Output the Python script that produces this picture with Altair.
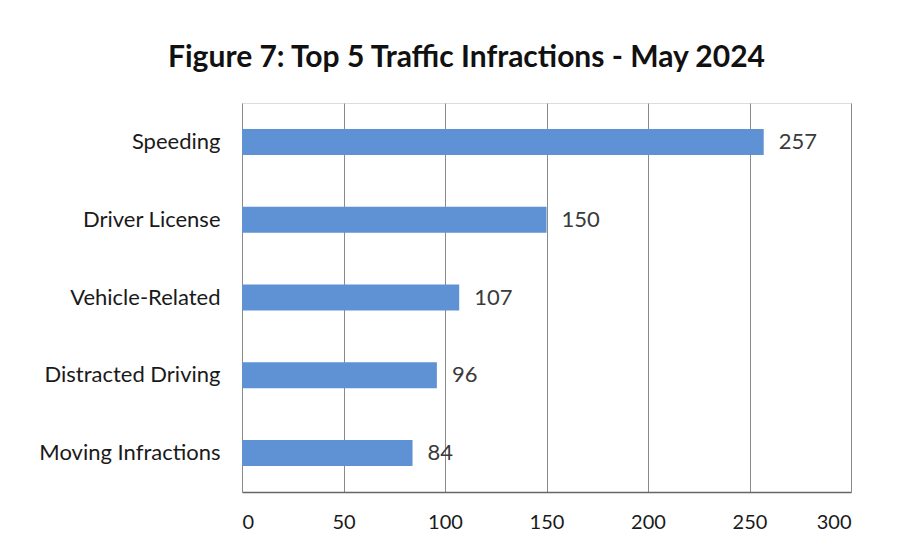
import altair as alt
import pandas as pd

categories = ["Speeding", "Driver License", "Vehicle-Related", "Distracted Driving", "Moving Infractions"]
values = [257, 150, 107, 96, 84]
x_ticks = [0, 50, 100, 150, 200, 250, 300]

df = pd.DataFrame({"category": categories, "count": values})

FONT = "Lato"

x = alt.X("count:Q", scale=alt.Scale(domain=[0, 300], nice=False),
          axis=alt.Axis(values=x_ticks, title=None, grid=True, gridColor="#8a8a8a",
                        gridWidth=1, domain=True, domainColor="#666666", domainWidth=1.5,
                        ticks=False, labelPadding=20, labelFontSize=20, labelColor="#1a1a1a",
                        labelFont=FONT))
y = alt.Y("category:N", sort=categories, scale=alt.Scale(paddingInner=0.0, paddingOuter=0.0),
          axis=alt.Axis(title=None, domain=False, ticks=False, labelPadding=22,
                        labelFontSize=22, labelColor="#1a1a1a", labelFont=FONT, grid=False,
                        labelLimit=300))

bars = alt.Chart(df).mark_bar(size=26, color="#5E92D4").encode(x=x, y=y)
text = alt.Chart(df).mark_text(align="left", dx=15, fontSize=22, color="#3a3a3a", font=FONT).encode(
    x="count:Q", y=alt.Y("category:N", sort=categories), text="count:Q")

chart = (bars + text).properties(
    width=609, height=389,
    title=alt.TitleParams("Figure 7: Top 5 Traffic Infractions - May 2024", font=FONT,
                          fontSize=30, fontWeight="bold", color="#111111", anchor="middle",
                          offset=30, dx=-80),
    autosize=alt.AutoSizeParams(type="none"),
    padding={"left": 234, "top": 95, "right": 44, "bottom": 40},
).configure_view(stroke="#8a8a8a", strokeWidth=1).configure(background="white")

chart.save("out.html", embed_options={"renderer": "svg", "actions": False})
